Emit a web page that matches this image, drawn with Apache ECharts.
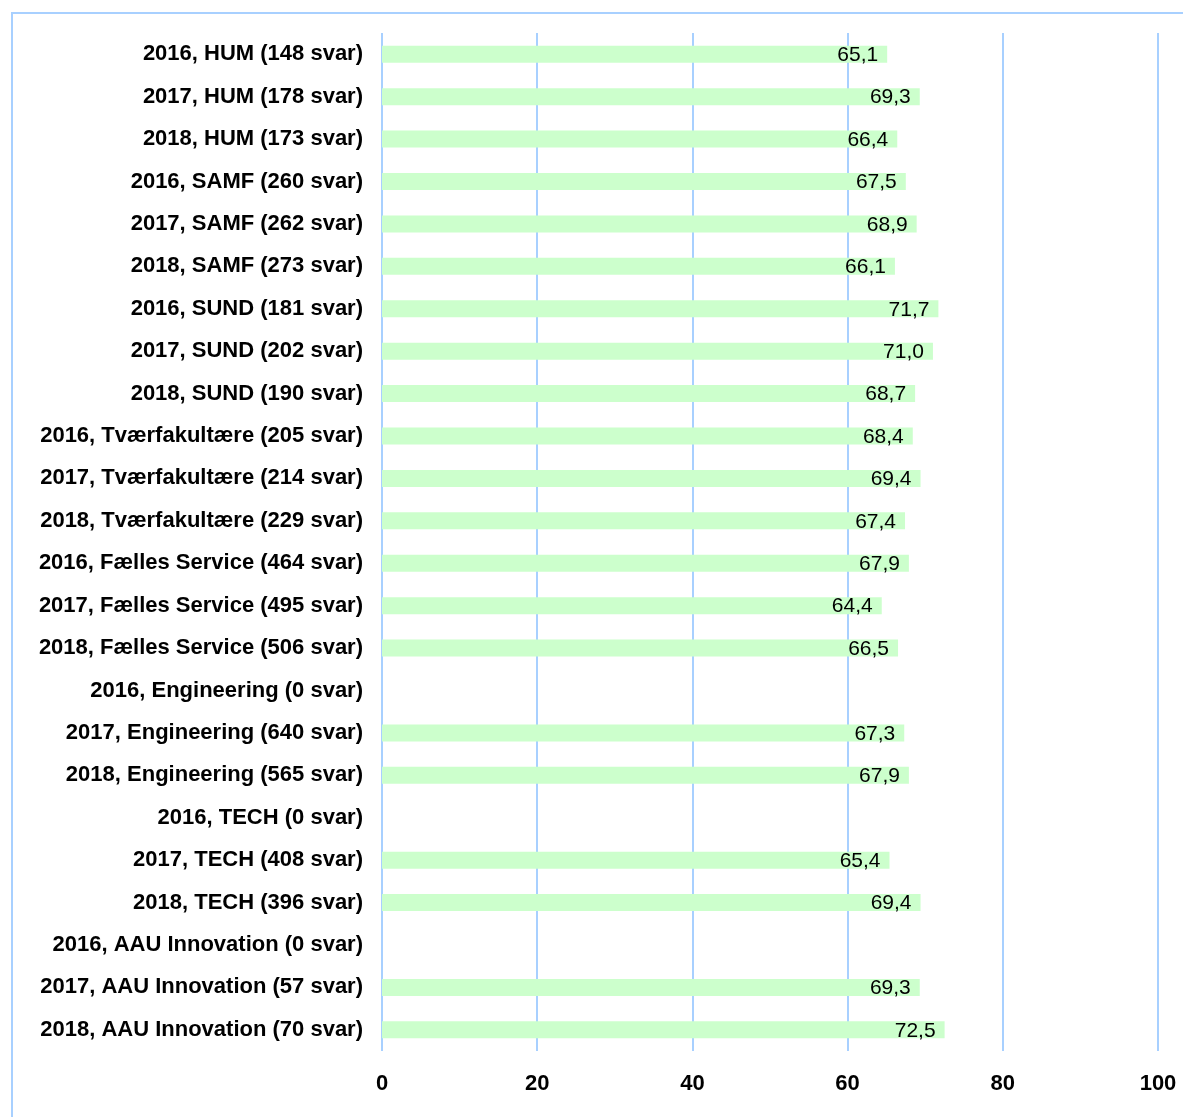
<!DOCTYPE html>
<html>
<head>
<meta charset="utf-8">
<script src="https://cdn.jsdelivr.net/npm/echarts@6/dist/echarts.min.js"></script>
<style>
html,body{margin:0;padding:0;background:#fff;}
#frame{position:absolute;left:11px;top:12px;width:1300px;height:1300px;border-top:2px solid #a8d0ff;border-left:2px solid #a8d0ff;}
#chart{position:absolute;left:0;top:0;width:1183px;height:1117px;}
</style>
</head>
<body>
<div id="frame"></div>
<div id="chart"></div>
<script>
const categories = [
  "2016, HUM (148 svar)",
  "2017, HUM (178 svar)",
  "2018, HUM (173 svar)",
  "2016, SAMF (260 svar)",
  "2017, SAMF (262 svar)",
  "2018, SAMF (273 svar)",
  "2016, SUND (181 svar)",
  "2017, SUND (202 svar)",
  "2018, SUND (190 svar)",
  "2016, Tværfakultære (205 svar)",
  "2017, Tværfakultære (214 svar)",
  "2018, Tværfakultære (229 svar)",
  "2016, Fælles Service (464 svar)",
  "2017, Fælles Service (495 svar)",
  "2018, Fælles Service (506 svar)",
  "2016, Engineering (0 svar)",
  "2017, Engineering (640 svar)",
  "2018, Engineering (565 svar)",
  "2016, TECH (0 svar)",
  "2017, TECH (408 svar)",
  "2018, TECH (396 svar)",
  "2016, AAU Innovation (0 svar)",
  "2017, AAU Innovation (57 svar)",
  "2018, AAU Innovation (70 svar)"
];
const values = [65.1, 69.3, 66.4, 67.5, 68.9, 66.1, 71.7, 71.0, 68.7, 68.4, 69.4, 67.4, 67.9, 64.4, 66.5, null, 67.3, 67.9, null, 65.4, 69.4, null, 69.3, 72.5];
const xTicks = [0, 20, 40, 60, 80, 100];

const chart = echarts.init(document.getElementById('chart'));
chart.setOption({
  animation: false,
  grid: {left: 382, right: 25, top: 33, bottom: 66, containLabel: false},
  xAxis: {
    type: 'value', min: xTicks[0], max: xTicks[xTicks.length - 1], interval: xTicks[1] - xTicks[0],
    axisLine: {show: false}, axisTick: {show: false},
    splitLine: {show: true, lineStyle: {color: '#a8d0ff', width: 2}},
    axisLabel: {fontFamily: 'Liberation Sans', fontWeight: 'bold', fontSize: 22, color: '#000', margin: 22}
  },
  yAxis: {
    type: 'category', data: categories, inverse: true,
    axisLine: {show: false}, axisTick: {show: false},
    axisLabel: {fontFamily: 'Liberation Sans', fontWeight: 'bold', fontSize: 22, color: '#000', margin: 19}
  },
  series: [{
    type: 'bar',
    data: values.map(v => v === null ? '-' : v),
    barWidth: 17,
    itemStyle: {color: '#ccffcc'},
    label: {
      show: true, position: 'insideRight', offset: [0, 1], distance: 9,
      fontFamily: 'Liberation Sans', fontSize: 21, color: '#000',
      formatter: p => p.value.toFixed(1).replace('.', ',')
    }
  }]
});
</script>
</body>
</html>
